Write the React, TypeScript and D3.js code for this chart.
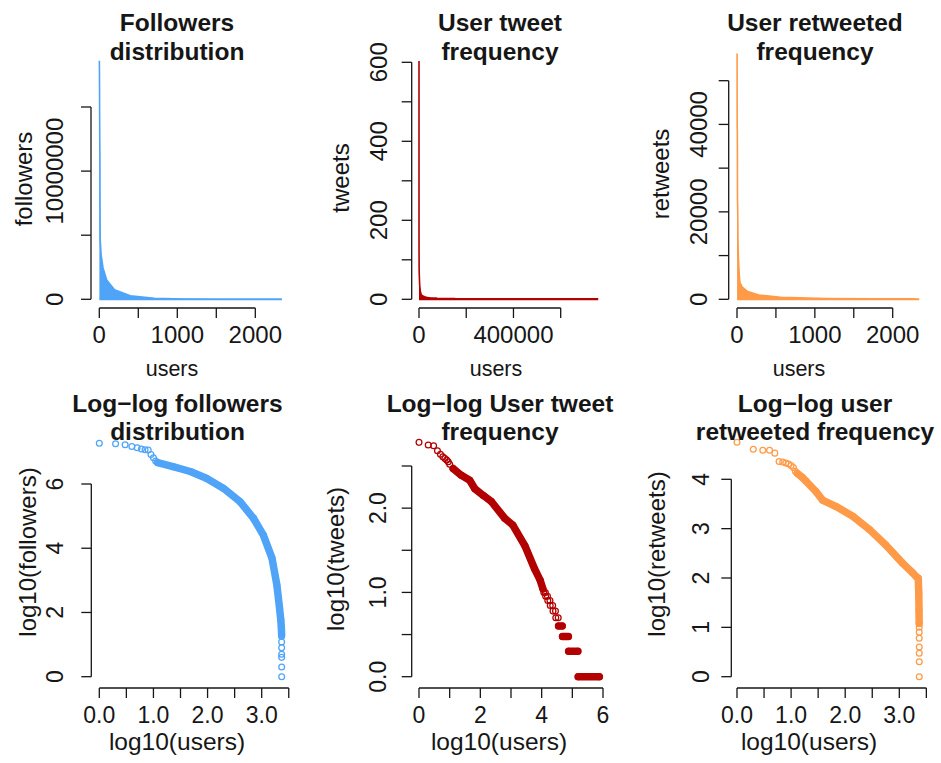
import React from "react";
import * as d3 from "d3";

// ---------------- data ----------------
// Followers per user, ranked (rank 1 = most followed)
const followersHeadRank = [1, 2, 3, 4, 5, 6, 7, 8, 9, 10, 11];
const followersHeadCount = [18600000, 17800000, 16600000, 14800000, 13500000, 12300000, 11700000, 11500000, 8300000, 6600000, 5200000];
const followersBandRank = [12, 23, 48, 95, 195, 398, 708, 1072, 1549, 1905, 2138, 2250, 2310, 2333];
const followersBandCount = [4600000, 3470000, 2450000, 1510000, 741000, 282000, 85000, 25700, 4900, 720, 135, 60, 32, 20];
const followersTailRank = [2334, 2335, 2336, 2337, 2338, 2339, 2340];
const followersTailCount = [18, 12, 8, 5, 4, 2, 1];

// Tweets per user, ranked
const tweetsHeadRank = [1, 2, 3, 4, 5, 6, 7, 8, 9, 10];
const tweetsHeadCount = [603, 562, 550, 479, 437, 407, 389, 372, 355, 331];
const tweetsBandRank = [13, 24, 45, 66, 126, 229, 617, 1148, 2818, 5888, 8900, 11000];
const tweetsBandCount = [295, 245, 214, 170, 141, 120, 76, 63, 36, 19, 14, 11];
const tweetsRunCount = [10, 9, 8, 7, 6, 5, 4, 3, 2, 1];
const tweetsRunFirst = [11750, 13490, 15850, 19050, 23440, 28840, 35480, 47860, 75860, 154900];
const tweetsRunLast = [13180, 15490, 18620, 22910, 28180, 34670, 46770, 74130, 151400, 758600];

// Times each user was retweeted, ranked
const retweetsHeadRank = [1, 2, 3, 4, 5, 6, 7, 8, 9, 10, 11, 12];
const retweetsHeadCount = [56200, 40700, 38900, 38900, 33900, 22900, 22400, 21400, 20400, 19000, 17400, 14500];
const retweetsBandRank = [13, 16, 19, 29, 38, 68, 138, 282, 562, 1148, 1778, 2042, 2240, 2290, 2315, 2330];
const retweetsBandCount = [13200, 11000, 9100, 5600, 3800, 2800, 1780, 955, 468, 200, 126, 107, 100, 50, 22, 12];
const retweetsTailRank = [2334, 2335, 2336, 2337, 2338, 2339, 2340];
const retweetsTailCount = [10, 8, 6, 4, 3, 2, 1];

// ---------------- ticks ----------------
const followersXTicks = [0, 500, 1000, 1500, 2000];
const followersXLabels = ["0", "", "1000", "", "2000"];
const followersYTicks = [0, 5000000, 10000000, 15000000];
const followersYLabels = ["0", "", "10000000", ""];
const tweetsXTicks = [0, 200000, 400000, 600000];
const tweetsXLabels = ["0", "", "400000", ""];
const tweetsYTicks = [0, 100, 200, 300, 400, 500, 600];
const tweetsYLabels = ["0", "", "200", "", "400", "", "600"];
const retweetsXTicks = [0, 500, 1000, 1500, 2000];
const retweetsXLabels = ["0", "", "1000", "", "2000"];
const retweetsYTicks = [0, 10000, 20000, 30000, 40000, 50000];
const retweetsYLabels = ["0", "", "20000", "", "40000", ""];
const logXTicksA = [0, 0.5, 1, 1.5, 2, 2.5, 3, 3.5];
const logXLabelsA = ["0.0", "", "1.0", "", "2.0", "", "3.0", ""];
const logXTicksB = [0, 1, 2, 3, 4, 5, 6];
const logXLabelsB = ["0", "", "2", "", "4", "", "6"];
const logFollowersYTicks = [0, 2, 4, 6];
const logFollowersYLabels = ["0", "2", "4", "6"];
const logTweetsYTicks = [0, 0.5, 1, 1.5, 2, 2.5];
const logTweetsYLabels = ["0.0", "", "1.0", "", "2.0", ""];
const logRetweetsYTicks = [0, 1, 2, 3, 4];
const logRetweetsYLabels = ["0", "1", "2", "3", "4"];

// ---------------- styling ----------------
const BLUE = "#4fa4f8";
const RED = "#b30000";
const ORANGE = "#ff9a48";
const INK = "#161616";
const FONT = "'Liberation Sans', Arial, Helvetica, sans-serif";

type Pt = { r: number; c: number };
const zip = (r: number[], c: number[]): Pt[] => r.map((v, i) => ({ r: v, c: c[i] }));

type AxisProps = {
  x: d3.ScaleLinear<number, number>;
  y: d3.ScaleLinear<number, number>;
  xTicks: number[];
  xLabels: string[];
  yTicks: number[];
  yLabels: string[];
  axisX: number;
  axisY: number;
  xTickBase: number;
  yTickBase: number;
  tickSize: number;
  title: string[];
  titleCx: number;
  titleY: number[];
  xTitle: string;
  xTitleCx: number;
  xTitleY: number;
  xTitleSize: number;
  yTitle: string;
  yTitleX: number;
  yTitleCy: number;
  yTitleSize: number;
  children?: React.ReactNode;
};

function Panel(p: AxisProps) {
  const tl = 10;
  const xs = p.xTicks.map((t) => p.x(t));
  const ys = p.yTicks.map((t) => p.y(t));
  return (
    <g>
      {p.children}
      {/* x axis */}
      <line x1={xs[0]} x2={xs[xs.length - 1]} y1={p.axisY} y2={p.axisY} stroke={INK} strokeWidth={1.3} />
      {xs.map((x, i) => (
        <line key={"xt" + i} x1={x} x2={x} y1={p.axisY} y2={p.axisY + tl} stroke={INK} strokeWidth={1.3} />
      ))}
      {xs.map((x, i) =>
        p.xLabels[i] ? (
          <text key={"xl" + i} x={x} y={p.xTickBase} textAnchor="middle" fontSize={p.tickSize} fill={INK} fontFamily={FONT}>
            {p.xLabels[i]}
          </text>
        ) : null
      )}
      {/* y axis */}
      <line x1={p.axisX} x2={p.axisX} y1={ys[0]} y2={ys[ys.length - 1]} stroke={INK} strokeWidth={1.3} />
      {ys.map((y, i) => (
        <line key={"yt" + i} x1={p.axisX} x2={p.axisX - tl} y1={y} y2={y} stroke={INK} strokeWidth={1.3} />
      ))}
      {ys.map((y, i) =>
        p.yLabels[i] ? (
          <text
            key={"yl" + i}
            transform={`translate(${p.yTickBase},${y}) rotate(-90)`}
            textAnchor="middle"
            fontSize={p.tickSize}
            fill={INK}
            fontFamily={FONT}
          >
            {p.yLabels[i]}
          </text>
        ) : null
      )}
      {/* titles */}
      {p.title.map((t, i) => (
        <text key={"t" + i} x={p.titleCx} y={p.titleY[i]} textAnchor="middle" fontSize={24.5} fontWeight="bold" fill={INK} fontFamily={FONT}>
          {t}
        </text>
      ))}
      <text x={p.xTitleCx} y={p.xTitleY} textAnchor="middle" fontSize={p.xTitleSize} fill={INK} fontFamily={FONT}>
        {p.xTitle}
      </text>
      <text
        transform={`translate(${p.yTitleX},${p.yTitleCy}) rotate(-90)`}
        textAnchor="middle"
        fontSize={p.yTitleSize}
        fill={INK}
        fontFamily={FONT}
      >
        {p.yTitle}
      </text>
    </g>
  );
}

function AreaMarks({ pts, x, y, color }: { pts: Pt[]; x: d3.ScaleLinear<number, number>; y: d3.ScaleLinear<number, number>; color: string }) {
  const area = d3
    .area<Pt>()
    .x((d) => x(d.r))
    .y0(y(0))
    .y1((d) => y(d.c));
  const line = d3
    .line<Pt>()
    .x((d) => x(d.r))
    .y((d) => y(d.c));
  return (
    <g>
      <path d={area(pts) || ""} fill={color} />
      <path d={line(pts) || ""} fill="none" stroke={color} strokeWidth={1.6} strokeLinejoin="round" />
      <line x1={x(pts[0].r)} x2={x(pts[pts.length - 1].r)} y1={y(0)} y2={y(0)} stroke={color} strokeWidth={1.8} />
    </g>
  );
}

function LogMarks({
  head,
  band,
  tail,
  runs,
  x,
  y,
  color,
}: {
  head: Pt[];
  band: Pt[];
  tail: Pt[];
  runs?: { c: number; a: number; b: number }[];
  x: d3.ScaleLinear<number, number>;
  y: d3.ScaleLinear<number, number>;
  color: string;
}) {
  const lx = (d: Pt) => x(Math.log10(d.r));
  const ly = (d: Pt) => y(Math.log10(d.c));
  const bandLine = d3.line<Pt>().x(lx).y(ly);
  const R = 2.9;
  const circ = (d: Pt, k: string) => <circle key={k} cx={lx(d)} cy={ly(d)} r={R} fill="none" stroke={color} strokeWidth={1.25} />;
  return (
    <g>
      <path d={bandLine(band) || ""} fill="none" stroke={color} strokeWidth={7.5} strokeLinecap="round" strokeLinejoin="round" />
      {band.map((d, i) => circ(d, "b" + i))}
      {head.map((d, i) => circ(d, "h" + i))}
      {tail.map((d, i) => circ(d, "t" + i))}
      {runs &&
        runs.map((run, i) => {
          const p1 = { r: run.a, c: run.c };
          const p2 = { r: run.b, c: run.c };
          const long = lx(p2) - lx(p1) > 3;
          return (
            <g key={"r" + i}>
              {long ? (
                <line x1={lx(p1)} x2={lx(p2)} y1={ly(p1)} y2={ly(p2)} stroke={color} strokeWidth={7.5} strokeLinecap="round" />
              ) : null}
              {circ(p1, "a")}
              {circ(p2, "b")}
            </g>
          );
        })}
    </g>
  );
}

export default function App() {
  const fHead = zip(followersHeadRank, followersHeadCount);
  const fBand = zip(followersBandRank, followersBandCount);
  const fTail = zip(followersTailRank, followersTailCount);
  const tHead = zip(tweetsHeadRank, tweetsHeadCount);
  const tBand = zip(tweetsBandRank, tweetsBandCount);
  const tRuns = tweetsRunCount.map((c, i) => ({ c, a: tweetsRunFirst[i], b: tweetsRunLast[i] }));
  const rHead = zip(retweetsHeadRank, retweetsHeadCount);
  const rBand = zip(retweetsBandRank, retweetsBandCount);
  const rTail = zip(retweetsTailRank, retweetsTailCount);

  const fAll = [...fHead, ...fBand, ...fTail];
  const tAll = [...tHead, ...tBand, ...tRuns.flatMap((r) => [{ r: r.a, c: r.c }, { r: r.b, c: r.c }])];
  const rAll = [...rHead, ...rBand, ...rTail];

  // top row scales
  const x1 = d3.scaleLinear().domain([0, 2000]).range([99.3, 255.3]);
  const y1 = d3.scaleLinear().domain([0, 15000000]).range([299.3, 107]);
  const x2 = d3.scaleLinear().domain([0, 600000]).range([419, 560.7]);
  const y2 = d3.scaleLinear().domain([0, 600]).range([299.3, 62.3]);
  const x3 = d3.scaleLinear().domain([0, 2000]).range([737, 892.7]);
  const y3 = d3.scaleLinear().domain([0, 50000]).range([299.3, 80.7]);
  // bottom row scales
  const x4 = d3.scaleLinear().domain([0, 3]).range([99.3, 261.7]);
  const y4 = d3.scaleLinear().domain([0, 6]).range([676.7, 484]);
  const x5 = d3.scaleLinear().domain([0, 6]).range([419, 603]);
  const y5 = d3.scaleLinear().domain([0, 2.5]).range([676.7, 466]);
  const x6 = d3.scaleLinear().domain([0, 3]).range([737, 899.3]);
  const y6 = d3.scaleLinear().domain([0, 4]).range([676.7, 479.3]);

  const top = { axisY: 308, xTickBase: 343, tickSize: 24, xTitleY: 376, xTitleSize: 21.5, yTitleSize: 24, titleY: [31, 60] };
  const bot = { axisY: 688, xTickBase: 723, tickSize: 23, xTitleY: 750, xTitleSize: 24.5, yTitleSize: 24, titleY: [411.5, 440] };

  return (
    <svg width={941} height={763} style={{ position: "absolute", left: 0, top: 0, background: "#fff" }}>
      <rect x={0} y={0} width={941} height={763} fill="#fff" />
      <Panel
        {...top}
        x={x1}
        y={y1}
        xTicks={followersXTicks}
        xLabels={followersXLabels}
        yTicks={followersYTicks}
        yLabels={followersYLabels}
        axisX={91}
        yTickBase={63}
        title={["Followers", "distribution"]}
        titleCx={177}
        xTitle="users"
        xTitleCx={172}
        yTitle="followers"
        yTitleX={32}
        yTitleCy={179}
      >
        <AreaMarks pts={fAll} x={x1} y={y1} color={BLUE} />
      </Panel>
      <Panel
        {...top}
        x={x2}
        y={y2}
        xTicks={tweetsXTicks}
        xLabels={tweetsXLabels}
        yTicks={tweetsYTicks}
        yLabels={tweetsYLabels}
        axisX={411.7}
        yTickBase={387}
        title={["User tweet", "frequency"]}
        titleCx={500}
        xTitle="users"
        xTitleCx={496}
        yTitle="tweets"
        yTitleX={349}
        yTitleCy={178}
      >
        <AreaMarks pts={tAll} x={x2} y={y2} color={RED} />
      </Panel>
      <Panel
        {...top}
        x={x3}
        y={y3}
        xTicks={retweetsXTicks}
        xLabels={retweetsXLabels}
        yTicks={retweetsYTicks}
        yLabels={retweetsYLabels}
        axisX={728.7}
        yTickBase={707}
        title={["User retweeted", "frequency"]}
        titleCx={815}
        xTitle="users"
        xTitleCx={799}
        yTitle="retweets"
        yTitleX={669}
        yTitleCy={174}
      >
        <AreaMarks pts={rAll} x={x3} y={y3} color={ORANGE} />
      </Panel>

      <Panel
        {...bot}
        x={x4}
        y={y4}
        xTicks={logXTicksA}
        xLabels={logXLabelsA}
        yTicks={logFollowersYTicks}
        yLabels={logFollowersYLabels}
        axisX={91.3}
        yTickBase={63}
        title={["Log\u2212log followers", "distribution"]}
        titleCx={177.5}
        xTitle="log10(users)"
        xTitleCx={177}
        yTitle="log10(followers)"
        yTitleX={36}
        yTitleCy={552}
      >
        <LogMarks head={fHead} band={fBand} tail={fTail} x={x4} y={y4} color={BLUE} />
      </Panel>
      <Panel
        {...bot}
        x={x5}
        y={y5}
        xTicks={logXTicksB}
        xLabels={logXLabelsB}
        yTicks={logTweetsYTicks}
        yLabels={logTweetsYLabels}
        axisX={411.7}
        yTickBase={386}
        title={["Log\u2212log User tweet", "frequency"]}
        titleCx={500}
        xTitle="log10(users)"
        xTitleCx={499}
        yTitle="log10(tweets)"
        yTitleX={344}
        yTitleCy={559}
      >
        <LogMarks head={tHead} band={tBand} tail={[]} runs={tRuns} x={x5} y={y5} color={RED} />
      </Panel>
      <Panel
        {...bot}
        x={x6}
        y={y6}
        xTicks={logXTicksA}
        xLabels={logXLabelsA}
        yTicks={logRetweetsYTicks}
        yLabels={logRetweetsYLabels}
        axisX={731.3}
        yTickBase={708.5}
        title={["Log\u2212log user", "retweeted frequency"]}
        titleCx={815}
        xTitle="log10(users)"
        xTitleCx={809}
        yTitle="log10(retweets)"
        yTitleX={665}
        yTitleCy={554}
      >
        <LogMarks head={rHead} band={rBand} tail={rTail} x={x6} y={y6} color={ORANGE} />
      </Panel>
    </svg>
  );
}
